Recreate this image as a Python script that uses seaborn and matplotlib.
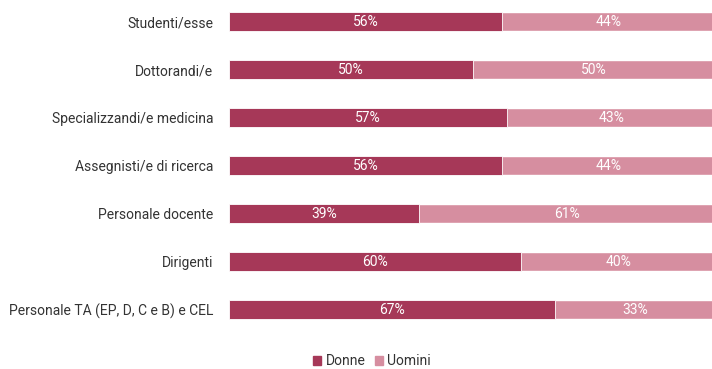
import matplotlib
matplotlib.use("Agg")
import matplotlib.pyplot as plt
import seaborn as sns
import pandas as pd
from matplotlib.patches import Patch

categories = [
    "Studenti/esse",
    "Dottorandi/e",
    "Specializzandi/e medicina",
    "Assegnisti/e di ricerca",
    "Personale docente",
    "Dirigenti",
    "Personale TA (EP, D, C e B) e CEL",
]
donne = [56, 50, 57, 56, 39, 60, 67]
uomini = [44, 50, 43, 44, 61, 40, 33]
series_names = ["Donne", "Uomini"]

col_donne = "#A63858"
col_uomini = "#D68EA0"
txt = "#333333"
fs = 10

sns.set_theme(style="white")
plt.rcParams["font.family"] = ["Roboto", "DejaVu Sans"]

df = pd.DataFrame({"cat": categories, "Donne": donne, "Uomini": uomini})
df["Totale"] = df["Donne"] + df["Uomini"]

fig = plt.figure(figsize=(7.12, 3.69), dpi=100)
W, H = 712, 369
ax = fig.add_axes([229 / W, 1 - 333.5 / H, (716 - 229) / W, 336 / H])

sns.barplot(data=df, y="cat", x="Totale", orient="h", color=col_uomini,
            width=0.41, ax=ax, saturation=1)
sns.barplot(data=df, y="cat", x="Donne", orient="h", color=col_donne,
            width=0.41, ax=ax, saturation=1, edgecolor="white", linewidth=0.6)

for i, (d, u) in enumerate(zip(donne, uomini)):
    ax.text(d / 2, i, f"{d}%", ha="center", va="center", color="white",
            fontsize=fs)
    ax.text(d + u / 2, i, f"{u}%", ha="center", va="center", color="white",
            fontsize=fs)

ax.set_xlim(0, 100)
ax.set_ylim(6.5, -0.5)
ax.set_xlabel("")
ax.set_ylabel("")
ax.set_xticks([])
ax.tick_params(axis="y", length=0, pad=11.5, labelsize=fs, labelcolor=txt)
for s in ax.spines.values():
    s.set_visible(False)

handles = [Patch(color=col_donne), Patch(color=col_uomini)]
fig.legend(handles, series_names, loc="center", bbox_to_anchor=(372 / W, 1 - 361 / H),
           ncol=2, frameon=False, handlelength=0.6, handleheight=0.6,
           handletextpad=0.3, columnspacing=0.7, prop={"size": fs},
           labelcolor=txt)

fig.savefig("out.png", dpi=100)
